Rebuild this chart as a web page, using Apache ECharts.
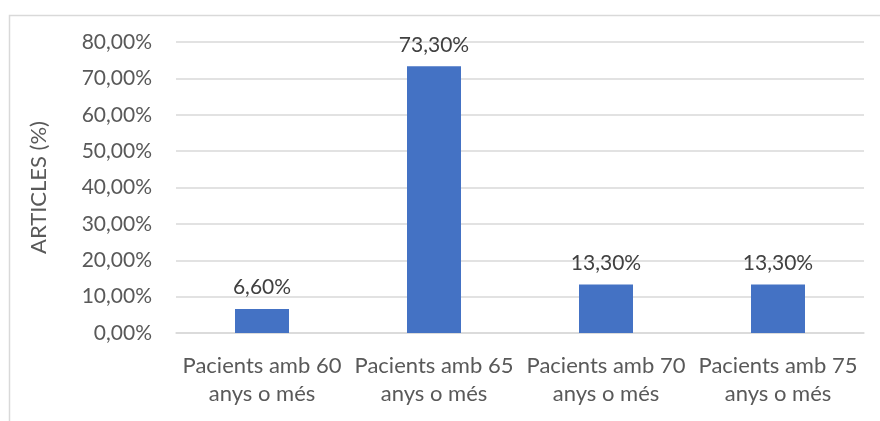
<!DOCTYPE html>
<html><head><meta charset="utf-8">
<script src="https://cdn.jsdelivr.net/npm/echarts@6/dist/echarts.min.js"></script>
<style>html,body{margin:0;padding:0;background:#fff}#c{width:880px;height:421px}</style>
</head><body><div id="c"></div>
<script>
const categories = ['Pacients amb 60\nanys o més', 'Pacients amb 65\nanys o més', 'Pacients amb 70\nanys o més', 'Pacients amb 75\nanys o més'];
const values = [6.6, 73.3, 13.3, 13.3];
const yTicks = [0, 10, 20, 30, 40, 50, 60, 70, 80];
const yTitle = 'ARTICLES (%)';
const fmt = v => v.toFixed(2).replace('.', ',') + '%';
const FONT = 'Lato, "Noto Sans", sans-serif';
const chart = echarts.init(document.getElementById('c'), null, {renderer: 'canvas'});
chart.setOption({
  animation: false,
  graphic: [{type: 'rect', left: 7, top: 13, shape: {width: 900, height: 500}, style: {fill: 'none', stroke: '#d9d9d9', lineWidth: 1.5}, silent: true}],
  grid: {left: 176, right: 16, top: 42, bottom: 88},
  xAxis: {
    type: 'category', data: categories,
    axisLine: {show: true, lineStyle: {color: '#d9d9d9', width: 1.5}},
    axisTick: {show: false},
    axisLabel: {color: '#595959', fontFamily: FONT, fontSize: 22, lineHeight: 28, margin: 19, interval: 0, hideOverlap: false}
  },
  yAxis: {
    type: 'value', min: yTicks[0], max: yTicks[yTicks.length - 1], interval: 10,
    name: yTitle, nameLocation: 'middle', nameGap: 126, nameRotate: 90,
    nameTextStyle: {color: '#595959', fontFamily: FONT, fontSize: 22},
    axisLine: {show: false}, axisTick: {show: false},
    splitLine: {lineStyle: {color: '#d9d9d9', width: 1.5}},
    axisLabel: {color: '#595959', fontFamily: FONT, fontSize: 21, margin: 24, formatter: fmt}
  },
  series: [{
    type: 'bar', data: values, barWidth: 54,
    itemStyle: {color: '#4472c4'},
    label: {show: true, position: 'top', distance: 11, color: '#404040', fontFamily: FONT, fontSize: 21, formatter: p => fmt(p.value)}
  }]
});
</script></body></html>
